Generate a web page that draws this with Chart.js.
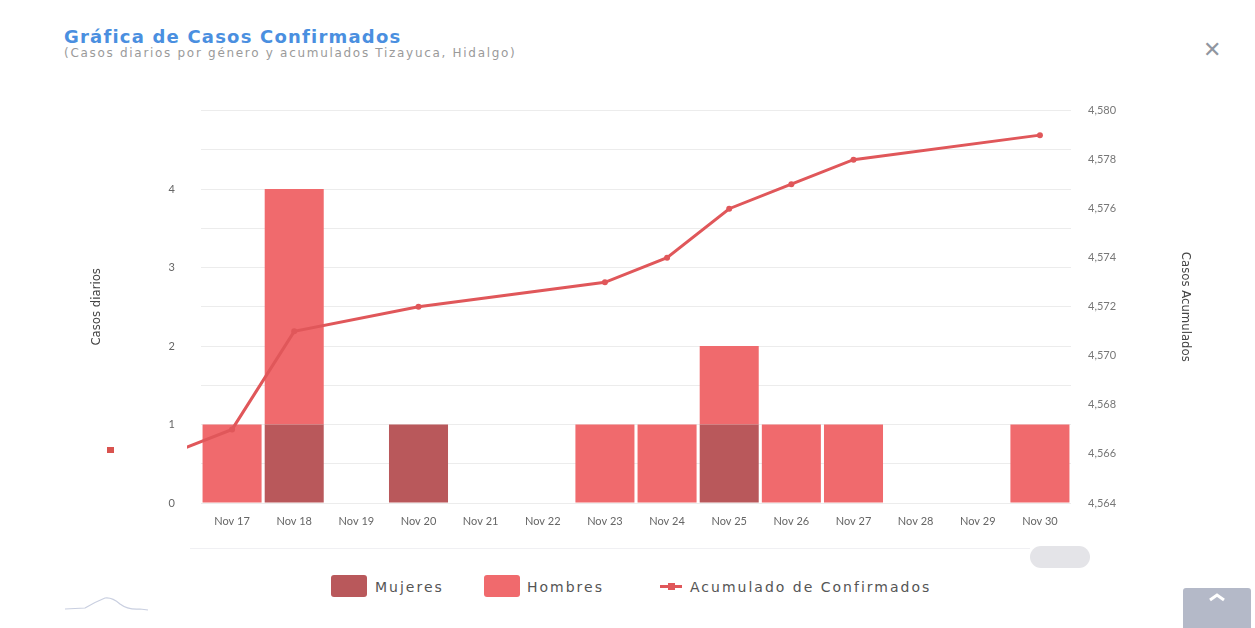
<!DOCTYPE html>
<html>
<head>
<meta charset="utf-8">
<script src="https://cdn.jsdelivr.net/npm/chart.js@4.4.0/dist/chart.umd.min.js"></script>
<style>
  html, body { margin: 0; padding: 0; background: #ffffff; }
  body { width: 1255px; height: 628px; position: relative; overflow: hidden; font-family: "DejaVu Sans", Lato, sans-serif; }
  .title { position: absolute; left: 64px; top: 26px; font-size: 18px; font-weight: bold; color: #4a8fe0; letter-spacing: 1.2px; }
  .subtitle { position: absolute; left: 64px; top: 46px; font-size: 12px; color: #9a9a9a; letter-spacing: 1.7px; }
  .close { position: absolute; left: 1203px; top: 37px; font-size: 22px; font-weight: bold; color: #9096a0; }
  .chartBox { position: absolute; left: 85px; top: 78px; width: 1112px; height: 467px; }
  .marker { position: absolute; left: 107px; top: 447px; width: 7px; height: 6px; background: #d9534f; }
  .track { position: absolute; left: 190px; top: 548px; width: 840px; height: 1px; background: #f0f0f3; }
  .scroll { position: absolute; left: 1030px; top: 546px; width: 60px; height: 22px; border-radius: 11px; background: #e4e4e8; }
  .legend { position: absolute; top: 575px; left: 0; width: 1255px; height: 26px; font-size: 14px; color: #555; letter-spacing: 2px; }
  .legend .item { position: absolute; top: 0; height: 24px; line-height: 24px; }
  .legend .box { position: absolute; top: 0; width: 36px; height: 22px; border-radius: 3px; }
  .legend .line { position: absolute; top: 10px; width: 22px; height: 3px; background: #e0575a; }
  .legend .dot { position: absolute; top: -2px; left: 8px; width: 7px; height: 7px; background: #e0575a; }
  .up { position: absolute; left: 1183px; top: 588px; width: 68px; height: 42px; background: #b4b9c8; border-radius: 3px; }
  .wave { position: absolute; left: 60px; top: 592px; }
</style>
</head>
<body>
<div class="title">Gráfica de Casos Confirmados</div>
<div class="subtitle">(Casos diarios por género y acumulados Tizayuca, Hidalgo)</div>
<div class="close">✕</div>
<div class="chartBox"><canvas id="casosChart"></canvas></div>
<div class="marker"></div>
<div class="track"></div>
<div class="scroll"></div>
<div class="legend">
  <div class="box" style="left:331px; background:#b9585b;"></div>
  <div class="item" style="left:375px;">Mujeres</div>
  <div class="box" style="left:484px; background:#f06a6d;"></div>
  <div class="item" style="left:527px;">Hombres</div>
  <div class="line" style="left:660px;"><div class="dot"></div></div>
  <div class="item" style="left:690px;">Acumulado de Confirmados</div>
</div>
<svg class="wave" width="90" height="22"><path d="M5 17 L25 16 Q35 10 45 6 Q52 5 60 12 Q68 18 80 17 L88 18" fill="none" stroke="#c9cfe0" stroke-width="1.2"/></svg>
<div class="up"><svg width="68" height="42"><path d="M27 12 L34 7 L41 12" fill="none" stroke="#ffffff" stroke-width="3"/></svg></div>

<script>
// first label (Nov 16) sits just off the left edge, only the line reaches into view
const dias = ['Nov 16', 'Nov 17', 'Nov 18', 'Nov 19', 'Nov 20', 'Nov 21', 'Nov 22', 'Nov 23',
              'Nov 24', 'Nov 25', 'Nov 26', 'Nov 27', 'Nov 28', 'Nov 29', 'Nov 30'];
const mujeres = [0, 0, 1, 0, 1, 0, 0, 0, 0, 1, 0, 0, 0, 0, 0];
const hombres = [0, 1, 3, 0, 0, 0, 0, 1, 1, 1, 1, 1, 0, 0, 1];
// days without new cases have no point on the line
const acumulados = [4566, 4567, 4571, null, 4572, null, null, 4573, 4574, 4576, 4577, 4578, null, null, 4579];

const colorMujeres = '#b9585b';
const colorHombres = '#f06a6d';
const colorLinea = '#e0575a';
const fuenteEje = "'Liberation Sans Narrow', 'DejaVu Sans Condensed', 'Roboto Condensed', sans-serif";

function initCasosChart() {
    const ctx = document.getElementById('casosChart').getContext('2d');

    new Chart(ctx, {
        type: 'bar',
        data: {
            labels: dias,
            datasets: [
                {
                    type: 'line',
                    label: 'Acumulado de Confirmados',
                    data: acumulados,
                    yAxisID: 'yAcum',
                    borderColor: colorLinea,
                    backgroundColor: colorLinea,
                    borderWidth: 3,
                    tension: 0,
                    spanGaps: true,
                    pointRadius: 3,
                    pointBackgroundColor: colorLinea,
                    pointBorderWidth: 0,
                    clip: { left: 14, top: 5, right: 5, bottom: 5 },
                    order: 0
                },
                {
                    label: 'Mujeres',
                    data: mujeres,
                    yAxisID: 'yDia',
                    backgroundColor: colorMujeres,
                    stack: 'casos',
                    barPercentage: 0.95,
                    categoryPercentage: 1,
                    order: 1
                },
                {
                    label: 'Hombres',
                    data: hombres,
                    yAxisID: 'yDia',
                    backgroundColor: colorHombres,
                    stack: 'casos',
                    barPercentage: 0.95,
                    categoryPercentage: 1,
                    order: 1
                }
            ]
        },
        options: {
            responsive: true,
            maintainAspectRatio: false,
            animation: false,
            layout: { padding: { top: 4 } },
            plugins: {
                legend: { display: false },
                tooltip: { enabled: false }
            },
            scales: {
                x: {
                    min: 'Nov 17',
                    stacked: true,
                    offset: true,
                    grid: { display: false, drawTicks: false },
                    border: { display: false },
                    ticks: { color: '#666', font: { family: 'Lato', size: 11 }, padding: 12, maxRotation: 0, autoSkip: false },
                    afterFit: (s) => { s.height = 42; }
                },
                yDia: {
                    position: 'left',
                    stacked: true,
                    min: 0,
                    max: 5,
                    grid: { color: '#ececec', drawTicks: false },
                    border: { display: false },
                    ticks: {
                        stepSize: 0.5,
                        padding: 26,
                        color: '#666',
                        font: { family: 'Lato', size: 11 },
                        callback: (v) => (Number.isInteger(v) && v < 5) ? v : ''
                    },
                    title: { display: true, text: 'Casos diarios', color: '#444', font: { family: fuenteEje, size: 13 } },
                    afterFit: (s) => { s.width = 116; }
                },
                yAcum: {
                    position: 'right',
                    min: 4564,
                    max: 4580,
                    grid: { display: false, drawTicks: false },
                    border: { display: false },
                    ticks: { stepSize: 2, padding: 17, color: '#777', font: { family: 'Lato', size: 11 } },
                    title: { display: true, text: 'Casos Acumulados', color: '#444', font: { family: fuenteEje, size: 13 } },
                    afterFit: (s) => { s.width = 126; }
                }
            }
        }
    });
}

document.addEventListener('DOMContentLoaded', initCasosChart);
</script>
</body>
</html>
